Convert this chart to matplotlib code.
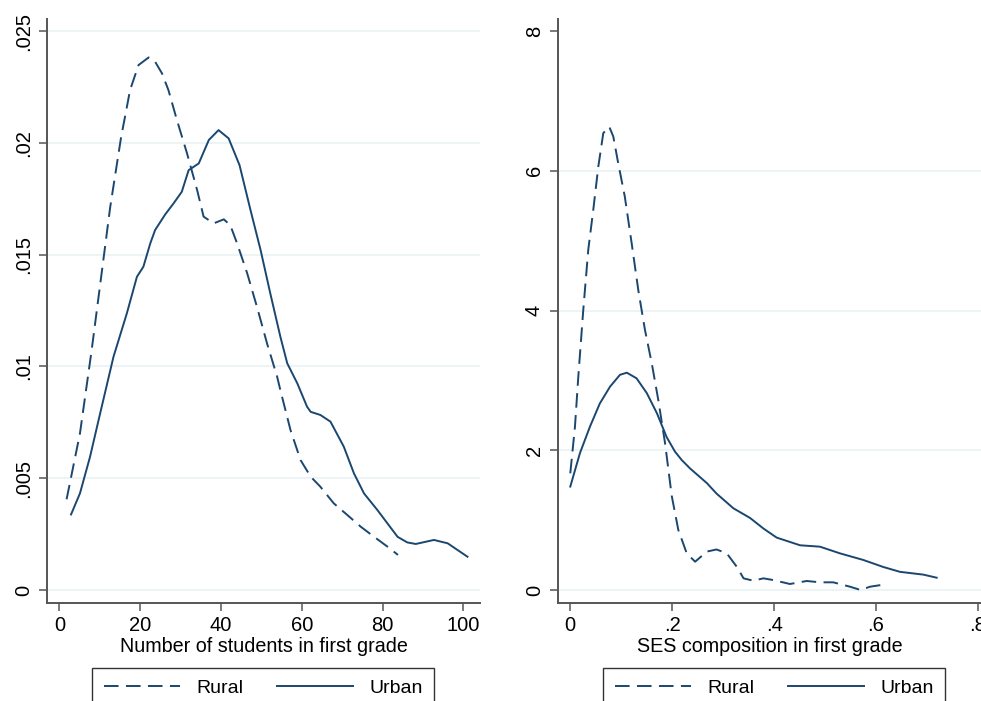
import matplotlib
matplotlib.use("Agg")
import matplotlib.pyplot as plt
from matplotlib.lines import Line2D

plt.rcParams['font.family'] = ['Liberation Sans', 'DejaVu Sans']

# ---- Data: left panel (Number of students in first grade) ----
rural_n_x = [1.8, 5.1, 8.0, 12.6, 15.3, 16.5, 17.5, 19.6, 22.1, 23.7, 25.4, 27.0, 29.1,
             31.6, 34.1, 35.7, 38.2, 40.7, 42.3, 44.0, 46.5, 48.9, 51.4, 53.9, 54.7,
             57.2, 59.7, 62.2, 64.6, 67.9, 71.3, 74.6, 77.9, 81.2, 83.8]
rural_n_y = [0.00406, 0.00700, 0.01073, 0.01714, 0.02027, 0.02140, 0.02236, 0.02348,
             0.02382, 0.02363, 0.02311, 0.02236, 0.02102, 0.01953, 0.01789, 0.01670,
             0.01640, 0.01658, 0.01632, 0.01550, 0.01416, 0.01267, 0.01103, 0.00954,
             0.00894, 0.00716, 0.00581, 0.00507, 0.00462, 0.00388, 0.00335, 0.00283,
             0.00238, 0.00194, 0.00157]
urban_n_x = [2.9, 5.1, 7.6, 10.1, 13.4, 16.7, 19.2, 20.8, 22.5, 23.7, 26.2, 28.3, 30.3,
             32.0, 34.5, 37.0, 39.4, 41.9, 44.6, 47.3, 49.8, 52.2, 54.7, 56.4, 58.9,
             61.3, 62.2, 64.6, 67.1, 70.4, 72.9, 75.4, 78.7, 81.2, 83.7, 86.1, 88.2,
             92.7, 96.1, 101.0]
urban_n_y = [0.00338, 0.00432, 0.00596, 0.00790, 0.01043, 0.01237, 0.01401, 0.01446,
             0.01550, 0.01610, 0.01680, 0.01730, 0.01781, 0.01878, 0.01908, 0.02013,
             0.02057, 0.02020, 0.01900, 0.01700, 0.01521, 0.01327, 0.01133, 0.01014,
             0.00924, 0.00820, 0.00797, 0.00783, 0.00753, 0.00641, 0.00522, 0.00432,
             0.00358, 0.00298, 0.00238, 0.00213, 0.00206, 0.00224, 0.00209, 0.00149]

# ---- Data: right panel (SES composition in first grade) ----
rural_s_x = [0.000, 0.0092, 0.0157, 0.0255, 0.0353, 0.0451, 0.055, 0.0648, 0.0765,
             0.0844, 0.094, 0.107, 0.1205, 0.1335, 0.1466, 0.160, 0.1727, 0.186, 0.199,
             0.212, 0.2285, 0.245, 0.268, 0.287, 0.307, 0.327, 0.340, 0.359, 0.379,
             0.398, 0.431, 0.464, 0.490, 0.516, 0.549, 0.570, 0.588, 0.614]
rural_s_y = [1.67, 2.34, 3.05, 4.01, 4.87, 5.44, 6.06, 6.54, 6.63, 6.49, 6.11, 5.63,
             4.96, 4.29, 3.72, 3.24, 2.72, 2.10, 1.35, 0.86, 0.525, 0.405, 0.55, 0.58,
             0.525, 0.33, 0.167, 0.133, 0.167, 0.143, 0.086, 0.129, 0.11, 0.11, 0.047,
             0.0, 0.047, 0.076]
urban_s_x = [0.000, 0.019, 0.0387, 0.058, 0.078, 0.0975, 0.111, 0.130, 0.150, 0.170,
             0.189, 0.2055, 0.2187, 0.235, 0.268, 0.287, 0.320, 0.353, 0.379, 0.405,
             0.451, 0.490, 0.529, 0.575, 0.614, 0.647, 0.693, 0.719]
urban_s_y = [1.48, 1.96, 2.34, 2.67, 2.91, 3.08, 3.11, 3.03, 2.82, 2.53, 2.19, 1.98,
             1.86, 1.74, 1.53, 1.38, 1.17, 1.03, 0.88, 0.75, 0.64, 0.62, 0.525, 0.43,
             0.33, 0.26, 0.22, 0.176]

left_yticks = [0, 0.005, 0.01, 0.015, 0.02, 0.025]
left_yticklabels = ['0', '.005', '.01', '.015', '.02', '.025']
left_xticks = [0, 20, 40, 60, 80, 100]
right_yticks = [0, 2, 4, 6, 8]
right_xticks = [0, 0.2, 0.4, 0.6, 0.8]
right_xticklabels = ['0', '.2', '.4', '.6', '.8']

NAVY = '#1a476f'
GRID = '#eaf2f3'
SPINE = '#555555'
DASH = (7.5, 3.8)

fig = plt.figure(figsize=(9.81, 7.01), dpi=100)
ax1 = fig.add_axes([47/981, 1-603/701, (480-47)/981, (603-19)/701])
ax2 = fig.add_axes([557.7/981, 1-603/701, (981-557.7)/981, (603-19)/701])

def style(ax):
    for s in ['top', 'right']:
        ax.spines[s].set_visible(False)
    for s in ['left', 'bottom']:
        ax.spines[s].set_color(SPINE)
        ax.spines[s].set_linewidth(1.4)
    ax.tick_params(axis='both', length=6, width=1.1, color=SPINE, labelsize=14.5,
                   labelcolor='black')
    ax.tick_params(axis='y', pad=4)
    ax.set_axisbelow(True)
    ax.grid(axis='y', color=GRID, linewidth=1.2)
    ax.grid(axis='x', visible=False)
    for lab in ax.get_yticklabels():
        lab.set_rotation(90)
        lab.set_va('center')

# Left
ax1.plot(rural_n_x, rural_n_y, color=NAVY, lw=1.4, dashes=DASH)
ax1.plot(urban_n_x, urban_n_y, color=NAVY, lw=1.4)
ax1.set_xlim(-3.05, 104.1)
ax1.set_ylim(-0.00058, 0.02554)
ax1.set_yticks(left_yticks)
ax1.set_yticklabels(left_yticklabels)
ax1.set_xticks(left_xticks)
ax1.set_xticklabels([str(v) for v in left_xticks])
ax1.set_xlabel('Number of students in first grade', fontsize=14.2, labelpad=1)
style(ax1)

# Right
ax2.plot(rural_s_x, rural_s_y, color=NAVY, lw=1.4, dashes=DASH)
ax2.plot(urban_s_x, urban_s_y, color=NAVY, lw=1.4)
ax2.set_xlim(-0.0247, 0.806)
ax2.set_ylim(-0.186, 8.172)
ax2.set_yticks(right_yticks)
ax2.set_yticklabels([str(v) for v in right_yticks])
ax2.set_xticks(right_xticks)
ax2.set_xticklabels(right_xticklabels)
ax2.set_xlabel('SES composition in first grade', fontsize=14.2, labelpad=1)
style(ax2)
ax2.get_ygridlines()[-1].set_visible(False)

handles = [Line2D([], [], color=NAVY, lw=1.4, dashes=DASH),
           Line2D([], [], color=NAVY, lw=1.4)]
for x0 in [92/981, 603/981]:
    leg = fig.legend(handles, ['Rural', 'Urban'], loc='upper left',
                     bbox_to_anchor=(x0, 1-668/701), ncol=2, frameon=True,
                     fancybox=False, edgecolor='black', fontsize=14,
                     handlelength=3.9, handletextpad=0.85, columnspacing=1.75,
                     borderpad=0.6, borderaxespad=0)
    leg.get_frame().set_linewidth(1.0)

fig.savefig('out.png', dpi=100)
